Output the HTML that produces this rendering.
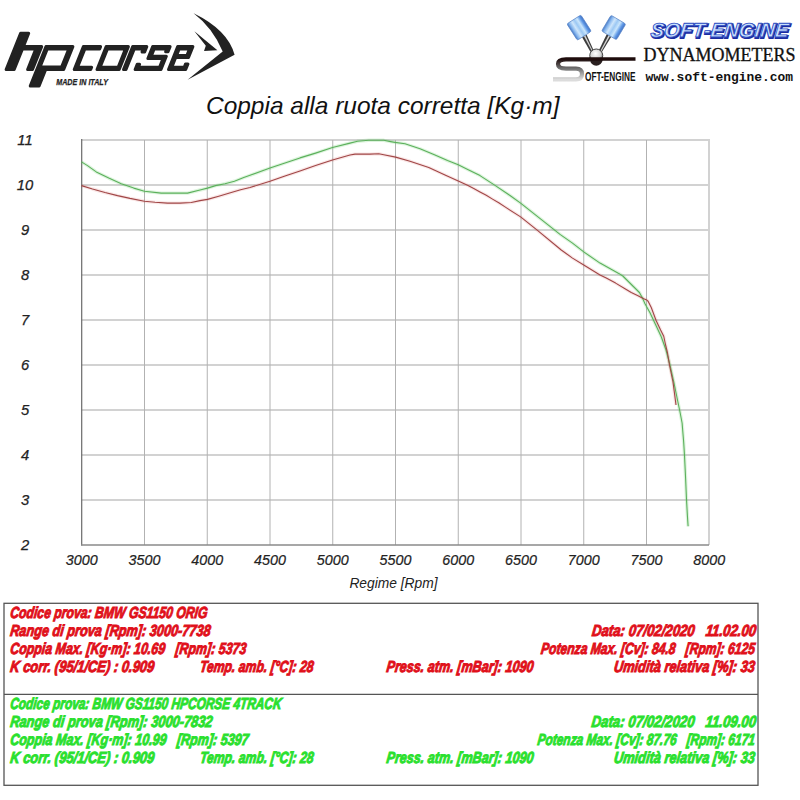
<!DOCTYPE html>
<html><head><meta charset="utf-8"><style>
html,body{margin:0;padding:0;background:#fff;width:800px;height:800px;overflow:hidden}
svg{display:block}
text{font-family:"Liberation Sans",sans-serif}
.hg{stroke:#d2d2d2;stroke-width:2}
.vg{stroke:#b2b2b2;stroke-width:1}
.ax{stroke:#505050;stroke-width:1.3}
.yl{font-size:14.8px;font-style:italic;text-anchor:middle;fill:#222;stroke:#222;stroke-width:0.25}
.xl{font-size:14.3px;font-style:italic;text-anchor:middle;fill:#222;stroke:#222;stroke-width:0.2}
.lr{font-size:16px;font-weight:bold;font-style:italic;fill:#e0101a;stroke:#e0101a;stroke-width:1.0}
.lg{font-size:16px;font-weight:bold;font-style:italic;fill:#2ae02e;stroke:#2ae02e;stroke-width:1.0}
</style></head><body>
<svg width="800" height="800" viewBox="0 0 800 800">
<rect width="800" height="800" fill="#fff"/>
<g fill="#222"><path d="M6.12,69.50 L20.60,33.30 L28.70,33.30 L23.38,46.60 L41.68,46.60 L32.52,69.50 L27.62,69.50 L35.86,48.90 L22.46,48.90 L14.22,69.50 Z M30.22,86.00 L45.98,46.60 L72.88,46.60 L63.72,69.50 L45.72,69.50 L39.12,86.00 Z M47.26,48.90 L68.86,48.90 L61.66,66.90 L40.06,66.90 Z M83.38,46.60 L100.58,46.60 L99.66,48.90 L84.86,48.90 L77.54,67.20 L91.64,67.20 L90.72,69.50 L74.22,69.50 Z M106.18,46.60 L128.38,46.60 L119.22,69.50 L97.02,69.50 Z M107.46,48.90 L125.46,48.90 L118.14,67.20 L100.14,67.20 Z M123.52,69.50 L132.68,46.60 L146.78,46.60 L144.66,51.90 L142.06,51.90 L143.26,48.90 L134.26,48.90 L126.02,69.50 Z M152.68,46.60 L170.08,46.60 L168.04,51.70 L165.64,51.70 L166.76,48.90 L154.16,48.90 L151.24,56.20 L166.34,56.20 L161.02,69.50 L135.12,69.50 L137.20,64.30 L139.60,64.30 L138.44,67.20 L159.54,67.20 L162.98,58.60 L147.88,58.60 Z M177.68,46.60 L192.88,46.60 L188.52,57.50 L175.72,57.50 L171.84,67.20 L184.24,67.20 L185.56,63.90 L187.96,63.90 L185.72,69.50 L168.52,69.50 Z M179.16,48.90 L189.56,48.90 L186.88,55.60 L176.48,55.60 Z" fill-rule="evenodd" stroke="#222" stroke-width="3.0" stroke-linejoin="round"/>
<path d="M193.6,13.2 Q228,30 234.6,54.8 L187.6,79.8 L222.7,51.5 Q213,28 193.6,13.2 Z"/><path d="M194.4,31.2 L217.4,50.2 L204,51 L205.8,45.8 Z"/>
<text x="56.2" y="84.8" font-size="8.8" font-weight="bold" font-style="italic" stroke="#222" stroke-width="0.25" textLength="51.8" lengthAdjust="spacingAndGlyphs">MADE IN ITALY</text></g>
<defs>
<linearGradient id="pg" x1="0" y1="0" x2="1" y2="0">
<stop offset="0" stop-color="#4a7cc8"/><stop offset="0.14" stop-color="#86b6ee"/><stop offset="0.32" stop-color="#cfe6fb"/><stop offset="0.5" stop-color="#9cc8f4"/>
<stop offset="0.68" stop-color="#cae6fc"/><stop offset="0.86" stop-color="#5e98e6"/><stop offset="1" stop-color="#4272c4"/></linearGradient>
<linearGradient id="sg" x1="0" y1="0" x2="0" y2="1">
<stop offset="0" stop-color="#1e0c0c"/><stop offset="0.45" stop-color="#707070"/><stop offset="1" stop-color="#dcdcdc"/></linearGradient>
<radialGradient id="cg" cx="0.45" cy="0.35" r="0.6"><stop offset="0" stop-color="#ffffff"/><stop offset="0.7" stop-color="#d0d0d0"/><stop offset="1" stop-color="#707070"/></radialGradient>
<linearGradient id="bt" x1="0" y1="0" x2="1" y2="0">
<stop offset="0" stop-color="#1a55d0"/><stop offset="1" stop-color="#3a6ee0"/></linearGradient>
</defs>
<g>
<path d="M586.62,34.63 L593.61,50.19 L590.39,51.81 L581.98,36.97 Z" fill="#3c3c3c"/><path d="M585.28,35.30 L592.71,50.64 L591.82,51.09 L583.85,36.03 Z" fill="#d4d4d4"/>
<path d="M611.28,36.64 L602.08,51.86 L598.92,50.14 L606.72,34.16 Z" fill="#3c3c3c"/><path d="M609.97,35.93 L601.20,51.38 L600.32,50.90 L608.56,35.16 Z" fill="#d4d4d4"/>
<rect x="-8.3" y="-9.7" width="16.6" height="19.4" rx="1.5" fill="url(#pg)" stroke="#5a86c8" stroke-width="0.7" transform="translate(579.1,27.6) rotate(-32.6)"/>
<rect x="-8.6" y="-9.2" width="17.2" height="18.4" rx="1.5" fill="url(#pg)" stroke="#5a86c8" stroke-width="0.7" transform="translate(613.7,27.5) rotate(30.7)"/>
<circle cx="596.25" cy="55.5" r="6.5" fill="url(#cg)" stroke="#333" stroke-width="0.9"/>
<path d="M589.8,60 A6.5,6.5 0 0 0 602.7,60 Z" fill="#2a2020"/>
<path d="M589.5,57.3 L635.5,57.3 L635.5,60.8 L589.5,60.8 Z" fill="#1e0c0c"/>
<path d="M590,59.3 L566,59.3 Q558,59.3 558,64 Q558,68.6 566,68.6 L576,68.6 Q582,68.6 582,74 Q582,79.4 576,79.4 L553,79.4" fill="none" stroke="url(#sg)" stroke-width="4.2"/>
<text x="585" y="80.6" font-size="12.5" font-weight="bold" fill="#111" textLength="50.5" lengthAdjust="spacingAndGlyphs">OFT-ENGINE</text>
<g transform="translate(0,37.2) skewX(-6)"><text x="651" y="0.9" font-size="20" font-weight="bold" font-style="italic" fill="#1c2ca0" stroke="#1c2ca0" stroke-width="1.8" textLength="138" lengthAdjust="spacingAndGlyphs">SOFT-ENGINE</text>
<text x="650" y="0" font-size="20" font-weight="bold" font-style="italic" fill="#c8e0fc" stroke="#2c4cc4" stroke-width="0.8" textLength="138" lengthAdjust="spacingAndGlyphs">SOFT-ENGINE</text></g>
<text x="643.6" y="61" font-size="18" fill="#111" stroke="#111" stroke-width="0.3" textLength="152" lengthAdjust="spacingAndGlyphs" style="font-family:'Liberation Serif',serif">DYNAMOMETERS</text>
<text x="645.6" y="81.3" font-size="13" font-weight="bold" fill="#111" textLength="147.4" lengthAdjust="spacingAndGlyphs" style="font-family:'Liberation Mono',monospace">www.soft-engine.com</text>
</g>
<line x1="81.75" y1="500" x2="709.25" y2="500" class="hg"/><line x1="81.75" y1="455" x2="709.25" y2="455" class="hg"/><line x1="81.75" y1="410" x2="709.25" y2="410" class="hg"/><line x1="81.75" y1="365" x2="709.25" y2="365" class="hg"/><line x1="81.75" y1="320" x2="709.25" y2="320" class="hg"/><line x1="81.75" y1="275" x2="709.25" y2="275" class="hg"/><line x1="81.75" y1="230" x2="709.25" y2="230" class="hg"/><line x1="81.75" y1="185" x2="709.25" y2="185" class="hg"/><line x1="81.75" y1="140" x2="709.25" y2="140" class="hg"/><line x1="144.50" y1="140" x2="144.50" y2="545" class="vg"/><line x1="207.25" y1="140" x2="207.25" y2="545" class="vg"/><line x1="270.00" y1="140" x2="270.00" y2="545" class="vg"/><line x1="332.75" y1="140" x2="332.75" y2="545" class="vg"/><line x1="395.50" y1="140" x2="395.50" y2="545" class="vg"/><line x1="458.25" y1="140" x2="458.25" y2="545" class="vg"/><line x1="521.00" y1="140" x2="521.00" y2="545" class="vg"/><line x1="583.75" y1="140" x2="583.75" y2="545" class="vg"/><line x1="646.50" y1="140" x2="646.50" y2="545" class="vg"/><line x1="709" y1="139" x2="709" y2="545" class="hg"/><line x1="81.7" y1="139" x2="81.7" y2="545.5" stroke="#6a6a6a" stroke-width="1.2"/><line x1="81.1" y1="544.95" x2="709" y2="544.95" stroke="#8a8a8a" stroke-width="1.35"/>
<polyline points="81.50,161.90 87.50,165.60 96.25,171.90 108.75,178.10 121.25,183.75 133.75,188.10 144.40,191.25 161.25,193.10 180.00,193.10 187.50,193.10 200.00,190.00 207.50,188.10 215.60,185.60 225.00,183.75 234.40,181.25 243.75,177.50 250.00,175.30 270.00,168.10 285.00,163.00 300.00,157.90 315.60,153.10 332.50,147.50 350.00,143.10 357.50,141.30 368.75,140.30 383.75,140.30 390.60,141.60 395.00,142.40 405.00,143.75 420.00,148.75 435.00,155.00 447.50,160.60 458.25,164.75 468.75,170.00 480.00,175.60 495.00,185.40 510.00,195.50 520.60,203.10 553.75,229.40 560.00,234.40 572.50,243.10 583.75,251.90 600.00,263.10 612.50,270.00 618.75,273.40 623.10,276.25 628.10,281.25 634.40,287.50 639.40,292.50 642.50,298.10 645.00,303.75 650.00,312.75 656.00,325.50 661.25,336.75 666.00,350.00 670.00,365.00 674.00,383.00 677.50,400.00 680.00,412.00 682.10,423.00 683.70,442.50 684.50,455.50 685.60,478.30 686.50,499.40 687.40,515.70 688.10,526.30" fill="none" stroke="#40c040" stroke-opacity="0.18" stroke-width="3.4" stroke-linejoin="round"/>
<polyline points="81.50,185.60 92.50,189.00 105.00,192.50 117.50,195.60 130.00,198.40 144.40,201.25 155.00,202.25 167.50,203.10 180.00,203.10 191.25,202.50 200.00,200.60 207.50,199.40 218.75,196.25 231.25,192.50 240.60,189.70 250.00,187.50 270.00,181.25 285.00,176.00 300.00,170.90 315.60,165.60 332.50,160.00 350.00,155.00 355.00,154.10 370.00,154.10 378.75,153.75 383.75,154.80 395.60,157.10 410.00,161.25 428.75,167.50 445.00,175.00 458.25,181.00 467.50,185.30 473.75,188.40 480.00,191.90 486.25,195.30 492.50,199.10 498.75,202.80 505.00,206.90 520.60,216.90 536.25,229.40 561.25,250.00 572.50,258.10 583.75,265.00 600.00,275.00 606.25,278.10 615.60,283.10 625.00,288.75 631.25,292.50 637.50,295.60 643.75,298.75 646.25,299.70 648.10,301.25 651.25,307.50 656.00,320.25 660.60,330.00 663.75,336.25 665.60,345.00 667.50,353.00 669.50,365.00 673.00,382.00 676.00,405.00" fill="none" stroke="#d04040" stroke-opacity="0.13" stroke-width="3.4" stroke-linejoin="round"/>
<polyline points="81.50,161.90 87.50,165.60 96.25,171.90 108.75,178.10 121.25,183.75 133.75,188.10 144.40,191.25 161.25,193.10 180.00,193.10 187.50,193.10 200.00,190.00 207.50,188.10 215.60,185.60 225.00,183.75 234.40,181.25 243.75,177.50 250.00,175.30 270.00,168.10 285.00,163.00 300.00,157.90 315.60,153.10 332.50,147.50 350.00,143.10 357.50,141.30 368.75,140.30 383.75,140.30 390.60,141.60 395.00,142.40 405.00,143.75 420.00,148.75 435.00,155.00 447.50,160.60 458.25,164.75 468.75,170.00 480.00,175.60 495.00,185.40 510.00,195.50 520.60,203.10 553.75,229.40 560.00,234.40 572.50,243.10 583.75,251.90 600.00,263.10 612.50,270.00 618.75,273.40 623.10,276.25 628.10,281.25 634.40,287.50 639.40,292.50 642.50,298.10 645.00,303.75 650.00,312.75 656.00,325.50 661.25,336.75 666.00,350.00 670.00,365.00 674.00,383.00 677.50,400.00 680.00,412.00 682.10,423.00 683.70,442.50 684.50,455.50 685.60,478.30 686.50,499.40 687.40,515.70 688.10,526.30" fill="none" stroke="#5cb05c" stroke-width="1.1" stroke-linejoin="round"/>
<polyline points="81.50,185.60 92.50,189.00 105.00,192.50 117.50,195.60 130.00,198.40 144.40,201.25 155.00,202.25 167.50,203.10 180.00,203.10 191.25,202.50 200.00,200.60 207.50,199.40 218.75,196.25 231.25,192.50 240.60,189.70 250.00,187.50 270.00,181.25 285.00,176.00 300.00,170.90 315.60,165.60 332.50,160.00 350.00,155.00 355.00,154.10 370.00,154.10 378.75,153.75 383.75,154.80 395.60,157.10 410.00,161.25 428.75,167.50 445.00,175.00 458.25,181.00 467.50,185.30 473.75,188.40 480.00,191.90 486.25,195.30 492.50,199.10 498.75,202.80 505.00,206.90 520.60,216.90 536.25,229.40 561.25,250.00 572.50,258.10 583.75,265.00 600.00,275.00 606.25,278.10 615.60,283.10 625.00,288.75 631.25,292.50 637.50,295.60 643.75,298.75 646.25,299.70 648.10,301.25 651.25,307.50 656.00,320.25 660.60,330.00 663.75,336.25 665.60,345.00 667.50,353.00 669.50,365.00 673.00,382.00 676.00,405.00" fill="none" stroke="#a04646" stroke-width="1.1" stroke-linejoin="round"/>
<text x="25" y="549.6" class="yl">2</text><text x="25" y="504.6" class="yl">3</text><text x="25" y="459.6" class="yl">4</text><text x="25" y="414.6" class="yl">5</text><text x="25" y="369.6" class="yl">6</text><text x="25" y="324.6" class="yl">7</text><text x="25" y="279.6" class="yl">8</text><text x="25" y="234.6" class="yl">9</text><text x="25" y="189.6" class="yl">10</text><text x="25" y="144.6" class="yl">11</text>
<text x="81.75" y="564.8" class="xl">3000</text><text x="144.50" y="564.8" class="xl">3500</text><text x="207.25" y="564.8" class="xl">4000</text><text x="270.00" y="564.8" class="xl">4500</text><text x="332.75" y="564.8" class="xl">5000</text><text x="395.50" y="564.8" class="xl">5500</text><text x="458.25" y="564.8" class="xl">6000</text><text x="521.00" y="564.8" class="xl">6500</text><text x="583.75" y="564.8" class="xl">7000</text><text x="646.50" y="564.8" class="xl">7500</text><text x="709.25" y="564.8" class="xl">8000</text>
<text x="393.5" y="588.2" font-size="13.8" font-style="italic" text-anchor="middle" fill="#222">Regime [Rpm]</text>
<text x="206" y="113.7" font-size="23.4" font-style="italic" fill="#111" textLength="353.5" lengthAdjust="spacingAndGlyphs">Coppia alla ruota corretta [Kg·m]</text>
<rect x="4" y="603.3" width="754" height="182" fill="none" stroke="#555" stroke-width="1.3"/>
<line x1="4" y1="694.3" x2="758" y2="694.3" stroke="#555" stroke-width="1.3"/>
<g transform="translate(0,617.7) skewX(-7)"><text x="9.7" y="0" textLength="197.3" lengthAdjust="spacingAndGlyphs" class="lr">Codice prova: BMW GS1150 ORIG</text></g><g transform="translate(0,635.7) skewX(-7)"><text x="9.7" y="0" textLength="200.3" lengthAdjust="spacingAndGlyphs" class="lr">Range di prova [Rpm]: 3000-7738</text></g><g transform="translate(0,636) skewX(-7)"><text x="591.5" y="0" textLength="164.1" lengthAdjust="spacingAndGlyphs" class="lr">Data: 07/02/2020&#160;&#160;&#160;11.02.00</text></g><g transform="translate(0,653.7) skewX(-7)"><text x="9.7" y="0" textLength="236.1" lengthAdjust="spacingAndGlyphs" class="lr">Coppia Max. [Kg·m]: 10.69&#160;&#160;&#160;[Rpm]: 5373</text></g><g transform="translate(0,654) skewX(-7)"><text x="540.5" y="0" textLength="213.9" lengthAdjust="spacingAndGlyphs" class="lr">Potenza Max. [Cv]: 84.8&#160;&#160;&#160;[Rpm]: 6125</text></g><g transform="translate(0,671.7) skewX(-7)"><text x="9.7" y="0" textLength="144.1" lengthAdjust="spacingAndGlyphs" class="lr">K corr. (95/1/CE) : 0.909</text></g><g transform="translate(0,671.7) skewX(-7)"><text x="199.5" y="0" textLength="113.5" lengthAdjust="spacingAndGlyphs" class="lr">Temp. amb. [°C]: 28</text></g><g transform="translate(0,671.7) skewX(-7)"><text x="386" y="0" textLength="147.0" lengthAdjust="spacingAndGlyphs" class="lr">Press. atm. [mBar]: 1090</text></g><g transform="translate(0,671.7) skewX(-7)"><text x="613.4" y="0" textLength="141.0" lengthAdjust="spacingAndGlyphs" class="lr">Umidità relativa [%]: 33</text></g><g transform="translate(0,709) skewX(-7)"><text x="9.7" y="0" textLength="271.3" lengthAdjust="spacingAndGlyphs" class="lg">Codice prova: BMW GS1150 HPCORSE 4TRACK</text></g><g transform="translate(0,727) skewX(-7)"><text x="9.7" y="0" textLength="202.3" lengthAdjust="spacingAndGlyphs" class="lg">Range di prova [Rpm]: 3000-7832</text></g><g transform="translate(0,727.3) skewX(-7)"><text x="591" y="0" textLength="164.6" lengthAdjust="spacingAndGlyphs" class="lg">Data: 07/02/2020&#160;&#160;&#160;11.09.00</text></g><g transform="translate(0,745) skewX(-7)"><text x="9.7" y="0" textLength="238.3" lengthAdjust="spacingAndGlyphs" class="lg">Coppia Max. [Kg·m]: 10.99&#160;&#160;&#160;[Rpm]: 5397</text></g><g transform="translate(0,745) skewX(-7)"><text x="537" y="0" textLength="217.4" lengthAdjust="spacingAndGlyphs" class="lg">Potenza Max. [Cv]: 87.76&#160;&#160;&#160;[Rpm]: 6171</text></g><g transform="translate(0,763) skewX(-7)"><text x="9.7" y="0" textLength="144.1" lengthAdjust="spacingAndGlyphs" class="lg">K corr. (95/1/CE) : 0.909</text></g><g transform="translate(0,763) skewX(-7)"><text x="199.5" y="0" textLength="113.5" lengthAdjust="spacingAndGlyphs" class="lg">Temp. amb. [°C]: 28</text></g><g transform="translate(0,763) skewX(-7)"><text x="386" y="0" textLength="147.0" lengthAdjust="spacingAndGlyphs" class="lg">Press. atm. [mBar]: 1090</text></g><g transform="translate(0,763) skewX(-7)"><text x="613.4" y="0" textLength="141.0" lengthAdjust="spacingAndGlyphs" class="lg">Umidità relativa [%]: 33</text></g>
</svg>
</body></html>
